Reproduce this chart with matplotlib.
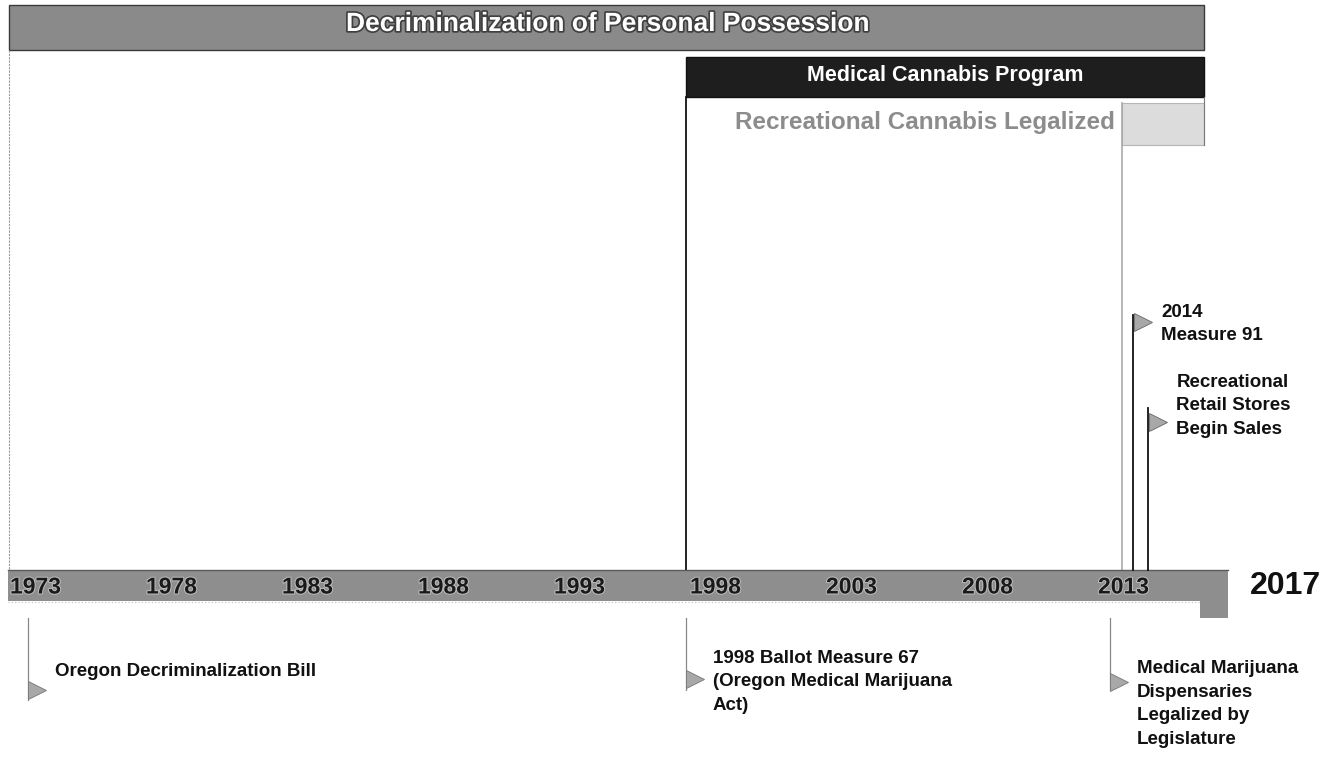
import matplotlib.pyplot as plt
import matplotlib.patheffects as pe
from matplotlib.patches import Rectangle

# ---- data ----
tick_years = [1973, 1978, 1983, 1988, 1993, 1998, 2003, 2008, 2013]
end_year = 2017

period_names = ["Decriminalization of Personal Possession",
                "Medical Cannabis Program",
                "Recreational Cannabis Legalized"]
period_start = [1972.95, 1997.85, 2013.9]
period_end = [2016.9, 2016.9, 2016.9]

below_years = [1973.65, 1997.85, 2013.45]
below_labels = ["Oregon Decriminalization Bill",
                "1998 Ballot Measure 67\n(Oregon Medical Marijuana\nAct)",
                "Medical Marijuana\nDispensaries\nLegalized by\nLegislature"]

above_years = [2014.3, 2014.85]
above_labels = ["2014\nMeasure 91", "Recreational\nRetail Stores\nBegin Sales"]

# pixel <-> year helper (27.2 px per year, 1973 at x=10)
PX0, PPY = 10, 27.2
def yr(px):
    return 1973 + (px - PX0) / PPY

fig = plt.figure(figsize=(13.38, 7.57), dpi=100)
ax = fig.add_axes([0, 0, 1, 1])
ax.set_xlim(yr(0), yr(1338))
ax.set_ylim(757, 0)
ax.axis('off')

font = 'Liberation Sans'
dx = 1 / PPY  # one pixel in data units

# ---- period bars ----
# decriminalization bar
d0, d1 = period_start[0], period_end[0]
ax.add_patch(Rectangle((d0, 5), d1 - d0, 45, fc='#8a8a8a', ec='#3a3a3a', lw=1))
ax.text(yr(608), 24, period_names[0], ha='center', va='center',
        fontsize=19, fontweight='bold', color='white', family=font,
        path_effects=[pe.withStroke(linewidth=2.5, foreground='#404040')])
ax.plot([d0, d0], [50, 570], color='#999999', lw=0.8, ls=(0, (2, 1)))

# medical bar
m0, m1 = period_start[1], period_end[1]
ax.add_patch(Rectangle((m0, 57), m1 - m0, 40, fc='#1e1e1e', ec='#111111', lw=1))
ax.text(yr(945), 75, period_names[1], ha='center', va='center',
        fontsize=15.5, fontweight='bold', color='white', family=font)
ax.plot([m0, m0], [97, 570], color='#111111', lw=1.3)
ax.plot([m1, m1], [97, 145], color='#777777', lw=0.8)

# recreational box
r0, r1 = period_start[2], period_end[2]
ax.add_patch(Rectangle((r0, 103), r1 - r0, 42, fc='#dcdcdc', ec='#b5b5b5', lw=0.8))
ax.text(yr(1115), 122, period_names[2], ha='right', va='center',
        fontsize=17.5, fontweight='bold', color='#8c8c8c', family=font)
ax.plot([r0, r0], [103, 570], color='#aaaaaa', lw=1.2)

# ---- timeline bar ----
t0, t1 = yr(8), yr(1228)
ax.add_patch(Rectangle((t0, 570), t1 - t0, 31, fc='#8e8e8e', ec='none'))
ax.add_patch(Rectangle((yr(1200), 598), yr(1228) - yr(1200), 20, fc='#8e8e8e', ec='none'))
ax.plot([t0, t1], [570, 570], color='#5a5a5a', lw=1)
ax.plot([t0, yr(1200)], [602, 602], color='#bdbdbd', lw=0.8, ls=(0, (1, 2)))
for y in tick_years:
    ax.text(y, 587, str(y), ha='left', va='center', fontsize=16.5,
            fontweight='bold', color='#1a1a1a', family=font,
            path_effects=[pe.withStroke(linewidth=1.5, foreground='#bbbbbb')])
ax.text(yr(1250), 586, str(end_year), ha='left', va='center', fontsize=23,
        fontweight='bold', color='#111111', family=font)

# ---- events below the timeline ----
below_top = [618, 618, 618]
below_bot = [700, 690, 690]
below_flag = [690, 679, 682]
below_text = [672, 682, 704]
for x, lab, y0, y1, fy, ty in zip(below_years, below_labels, below_top,
                                  below_bot, below_flag, below_text):
    ax.plot([x, x], [y0, y1], color='#888888', lw=0.9)
    ax.plot(x + 9 * dx, fy, marker='>', ms=13, color='#a8a8a8', mec='#777777', mew=0.6)
    ax.text(x + 27 * dx, ty, lab, ha='left', va='center', fontsize=13.5,
            fontweight='bold', color='#111111', family=font, linespacing=1.5)

# ---- events above the timeline ----
above_top = [315, 408]
above_flag = [322, 422]
above_text = [324, 406]
for x, lab, y0, fy, ty in zip(above_years, above_labels, above_top,
                              above_flag, above_text):
    ax.plot([x, x], [y0, 570], color='#111111', lw=1.3)
    ax.plot(x + 10 * dx, fy, marker='>', ms=13, color='#a8a8a8', mec='#666666', mew=0.6)
    ax.text(x + 28 * dx, ty, lab, ha='left', va='center', fontsize=13.5,
            fontweight='bold', color='#111111', family=font, linespacing=1.5)

fig.savefig('out.png', dpi=100, facecolor='white')
